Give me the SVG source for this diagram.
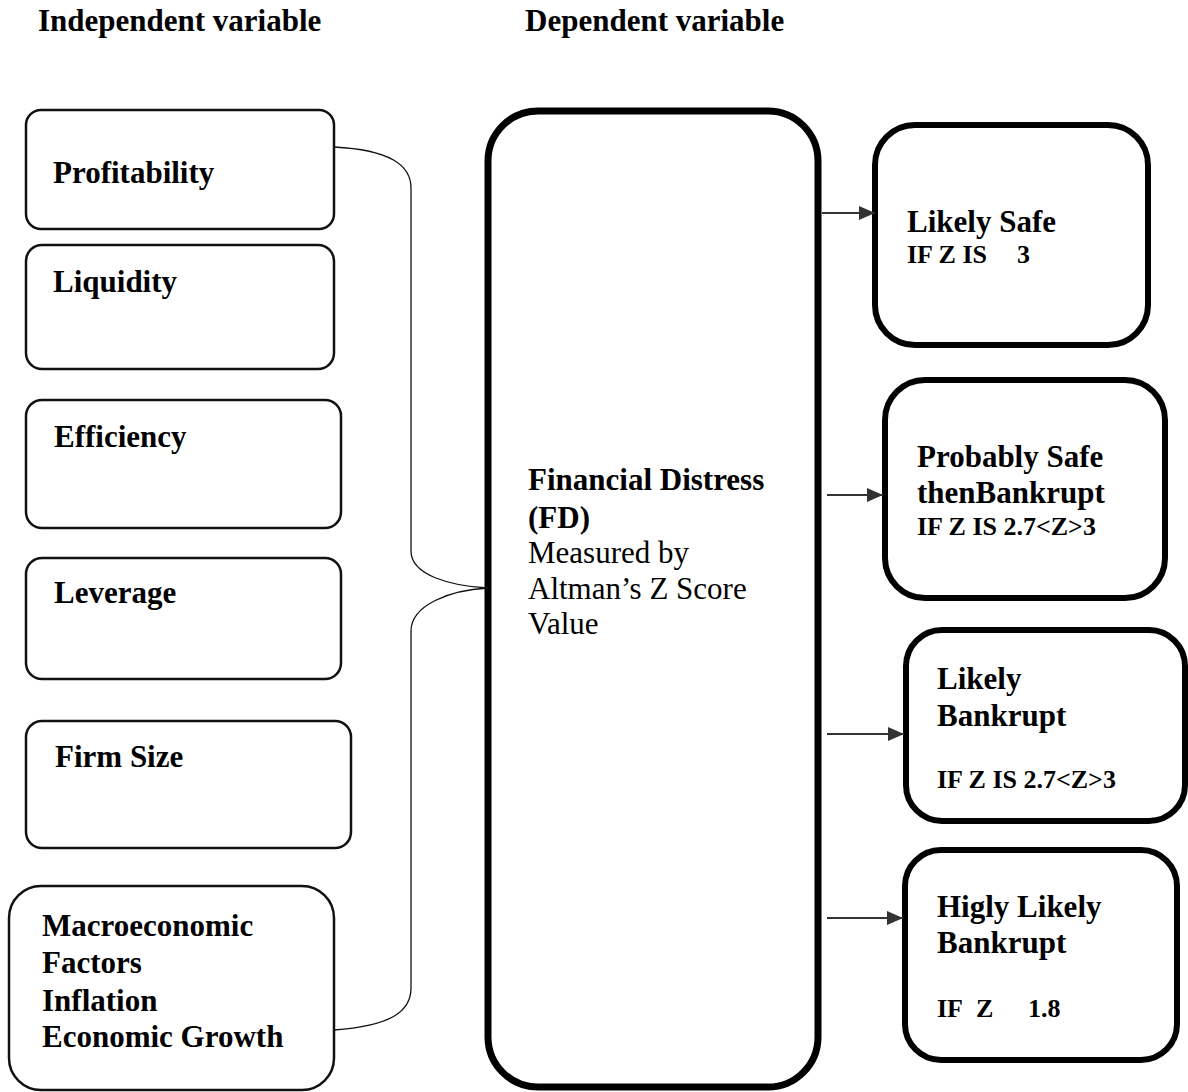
<svg xmlns="http://www.w3.org/2000/svg" width="1188" height="1092" viewBox="0 0 1188 1092">
<style>
  text { font-family: "Liberation Serif", "Times New Roman", serif; fill: #000; }
  .hdr { font-size: 31px; font-weight: bold; }
  .lbl { font-size: 31px; font-weight: bold; }
  .reg { font-size: 31px; font-weight: normal; }
  .sm { font-size: 26px; font-weight: bold; }
  .lbox { fill: #fff; stroke: #111; stroke-width: 2.5; }
  .mbox { fill: #fff; stroke: #000; stroke-width: 7; }
  .rbox { fill: #fff; stroke: #000; stroke-width: 6; }
  .brace { fill: none; stroke: #111; stroke-width: 1.3; }
  .arr { fill: none; stroke: #333; stroke-width: 2.2; marker-end: url(#ah); }
</style>
<defs>
  <marker id="ah" markerWidth="16" markerHeight="14" refX="16" refY="7" orient="auto" markerUnits="userSpaceOnUse">
    <path d="M0,0 L16,7 L0,14 Z" fill="#333"/>
  </marker>
</defs>
<rect width="1188" height="1092" fill="#fff"/>

<text class="hdr" x="38" y="31">Independent variable</text>
<text class="hdr" x="525" y="31">Dependent variable</text>

<g id="profitability">
  <rect class="lbox" x="26" y="110" width="308" height="119" rx="15"/>
  <text class="lbl" x="53" y="183">Profitability</text>
</g>
<g id="liquidity">
  <rect class="lbox" x="26" y="245" width="308" height="124" rx="16"/>
  <text class="lbl" x="53" y="292">Liquidity</text>
</g>
<g id="efficiency">
  <rect class="lbox" x="26" y="400" width="315" height="128" rx="16"/>
  <text class="lbl" x="54" y="447">Efficiency</text>
</g>
<g id="leverage">
  <rect class="lbox" x="26" y="558" width="315" height="121" rx="16"/>
  <text class="lbl" x="54" y="603">Leverage</text>
</g>
<g id="firm-size">
  <rect class="lbox" x="26" y="721" width="325" height="127" rx="16"/>
  <text class="lbl" x="55" y="767">Firm Size</text>
</g>
<g id="macro">
  <rect class="lbox" x="9" y="886" width="325" height="204" rx="32"/>
  <text class="lbl" x="42" y="936">Macroeconomic</text>
  <text class="lbl" x="42" y="973">Factors</text>
  <text class="lbl" x="42" y="1011">Inflation</text>
  <text class="lbl" x="42" y="1047">Economic Growth</text>
</g>

<g id="financial-distress">
  <rect class="mbox" x="488" y="111" width="330" height="976" rx="50"/>
  <text class="lbl" x="528" y="490">Financial Distress</text>
  <text class="lbl" x="528" y="528">(FD)</text>
  <text class="reg" x="528" y="563">Measured by</text>
  <text class="reg" x="528" y="599">Altman’s Z Score</text>
  <text class="reg" x="528" y="634">Value</text>
</g>

<g id="likely-safe">
  <rect class="rbox" x="875" y="125" width="273" height="220" rx="40"/>
  <text class="lbl" x="907" y="232">Likely Safe</text>
  <text class="sm" x="907" y="263">IF Z IS</text>
  <text class="sm" x="1017" y="263">3</text>
</g>
<g id="probably-safe">
  <rect class="rbox" x="885" y="380" width="280" height="218" rx="40"/>
  <text class="lbl" x="917" y="467">Probably Safe</text>
  <text class="lbl" x="917" y="503">thenBankrupt</text>
  <text class="sm" x="917" y="535">IF Z IS 2.7&lt;Z&gt;3</text>
</g>
<g id="likely-bankrupt">
  <rect class="rbox" x="906" y="630" width="279" height="191" rx="36"/>
  <text class="lbl" x="937" y="689">Likely</text>
  <text class="lbl" x="937" y="726">Bankrupt</text>
  <text class="sm" x="937" y="788">IF Z IS 2.7&lt;Z&gt;3</text>
</g>
<g id="highly-likely-bankrupt">
  <rect class="rbox" x="905" y="850" width="272" height="210" rx="36"/>
  <text class="lbl" x="937" y="917">Higly Likely</text>
  <text class="lbl" x="937" y="953">Bankrupt</text>
  <text class="sm" x="937" y="1017">IF</text>
  <text class="sm" x="976" y="1017">Z</text>
  <text class="sm" x="1028" y="1017">1.8</text>
</g>

<g id="connectors">
  <path class="brace" d="M334,147 C390,150 411,165 411,188 L411,551 C411,575 450,586 488,588 C450,590 411,605 411,631 L411,988 C411,1012 390,1026 334,1030"/>
  <path class="arr" d="M822,213 L875,213"/>
  <path class="arr" d="M827,495 L883,495"/>
  <path class="arr" d="M827,734 L904,734"/>
  <path class="arr" d="M827,918 L903,918"/>
</g>
</svg>
